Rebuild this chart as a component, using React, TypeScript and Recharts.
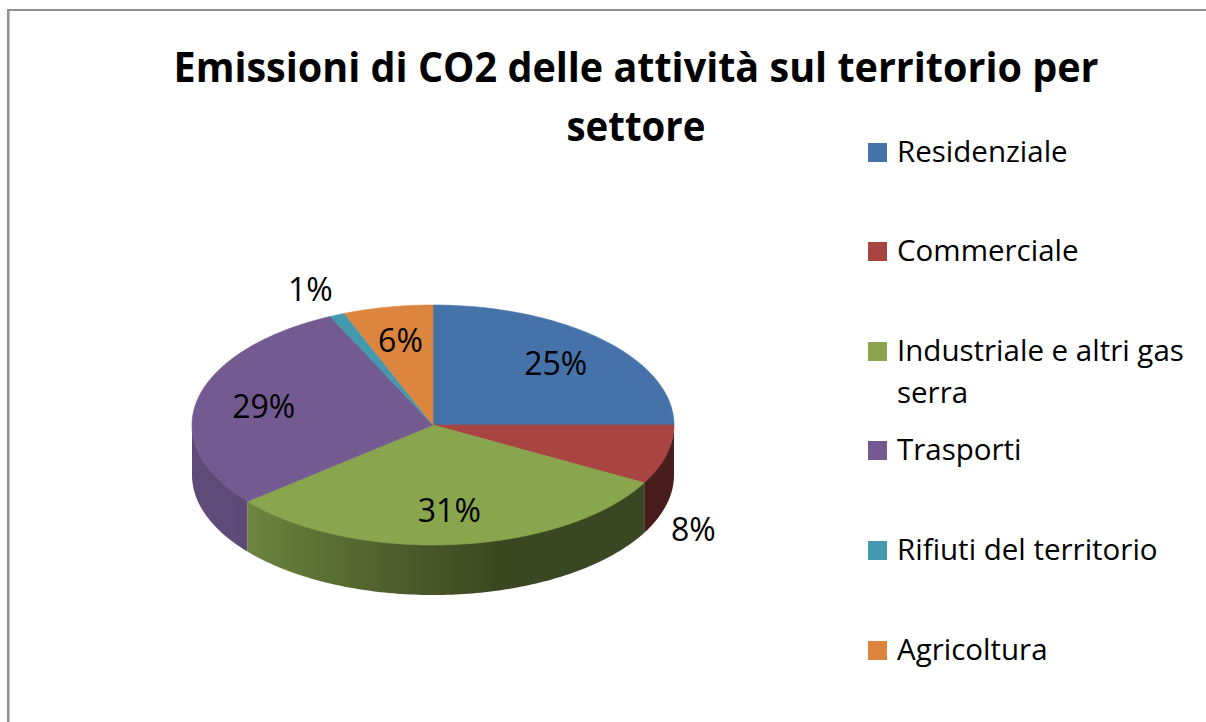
import { PieChart, Pie, Cell, Legend } from "recharts";

const sectors = [
  "Residenziale",
  "Commerciale",
  "Industriale e altri gas serra",
  "Trasporti",
  "Rifiuti del territorio",
  "Agricoltura",
];
const shares = [25, 8, 31, 29, 1, 6];
const titleLines = ["Emissioni di CO2 delle attività sul territorio per", "settore"];

const colors = ["#4672AA", "#A84442", "#89A54E", "#735A90", "#4399AE", "#DC853E"];
// slices whose percentage sits outside the pie
const outsideLabels = ["Commerciale", "Rifiuti del territorio"];

const data = sectors.map((name, i) => ({ name, value: shares[i] }));

const CX = 433;
const CY = 425;
const R = 241;
const TILT = 120 / 241;
const DEPTH = 50;
const RAD = Math.PI / 180;
const FONT = "'Open Sans', 'Noto Sans', sans-serif";

function pt(cx: number, cy: number, r: number, deg: number, drop = 0) {
  return [cx + r * Math.cos(deg * RAD), cy - r * TILT * Math.sin(deg * RAD) + drop];
}

// side wall brightness, light from the left
function shadeAt(deg: number) {
  if (deg <= -145) return 0.83;
  if (deg >= -74) return 0.43;
  const t = (deg + 145) / 71;
  return 0.83 - t * 0.4;
}

function scale(hex: string, k: number) {
  const n = parseInt(hex.slice(1), 16);
  const r = Math.round(((n >> 16) & 255) * k);
  const g = Math.round(((n >> 8) & 255) * k);
  const b = Math.round((n & 255) * k);
  return `rgb(${r},${g},${b})`;
}

function Slice3D(props: any) {
  const { cx, cy, outerRadius, startAngle, endAngle, fill } = props;
  const s = Math.max(startAngle, endAngle);
  const e = Math.min(startAngle, endAngle);
  const id = `wall-${Math.round(s * 10)}`;

  // top face
  const steps = Math.max(2, Math.ceil(s - e));
  let top = `M${cx},${cy}`;
  for (let i = 0; i <= steps; i++) {
    const [x, y] = pt(cx, cy, outerRadius, s - ((s - e) * i) / steps);
    top += ` L${x},${y}`;
  }
  top += " Z";

  // front wall
  const hi = Math.min(s, 0);
  const lo = Math.max(e, -180);
  let wall = null;
  if (lo < hi) {
    const n = Math.max(2, Math.ceil(hi - lo));
    let d = "";
    for (let i = 0; i <= n; i++) {
      const [x, y] = pt(cx, cy, outerRadius, hi - ((hi - lo) * i) / n, -1);
      d += `${i === 0 ? "M" : " L"}${x},${y}`;
    }
    for (let i = n; i >= 0; i--) {
      const [x, y] = pt(cx, cy, outerRadius, hi - ((hi - lo) * i) / n, DEPTH);
      d += ` L${x},${y}`;
    }
    d += " Z";
    const stops = [];
    for (let k = 0; k <= 24; k++) {
      const t = k / 24;
      const deg = -Math.acos(2 * t - 1) / RAD;
      stops.push(<stop key={k} offset={t} stopColor={scale(fill, shadeAt(deg))} />);
    }
    wall = (
      <>
        <defs>
          <linearGradient
            id={id}
            gradientUnits="userSpaceOnUse"
            x1={cx - outerRadius}
            x2={cx + outerRadius}
            y1={0}
            y2={0}
          >
            {stops}
          </linearGradient>
        </defs>
        <path d={d} fill={`url(#${id})`} stroke="none" />
      </>
    );
  }

  return (
    <g>
      {wall}
      <path d={top} fill={fill} stroke={fill} strokeWidth={0.6} />
    </g>
  );
}

const LABEL_SIZE = 32;

function renderLabel(p: any) {
  const { cx, cy, midAngle, outerRadius, percent } = p;
  const name = p.name ?? p.payload?.name;
  let x: number;
  let y: number;
  if (outsideLabels.includes(name)) {
    const sn = Math.sin(midAngle * RAD);
    const cs = Math.cos(midAngle * RAD);
    const [rx, ry] = pt(cx, cy, outerRadius, midAngle, sn < 0 ? DEPTH : 0);
    x = rx + Math.sign(cs) * 27;
    y = ry - Math.sign(sn) * 25;
  } else {
    [x, y] = pt(cx, cy, outerRadius * 0.72, midAngle);
  }
  return (
    <text
      x={x}
      y={y + LABEL_SIZE * 0.357}
      textAnchor="middle"
      fontFamily={FONT}
      fontSize={LABEL_SIZE}
      fill="#000"
    >
      {Math.round(percent * 100)}%
    </text>
  );
}

function LegendBox() {
  return (
    <div style={{ fontFamily: FONT, fontSize: 29.5, color: "#000" }}>
      {sectors.map((name, i) => (
        <div key={name} style={{ display: "flex", alignItems: "flex-start", height: 99.6 }}>
          <div
            style={{
              width: 19,
              height: 19,
              marginTop: 13,
              marginRight: 10,
              background: colors[i],
              flex: "none",
            }}
          />
          <div style={{ width: 300, lineHeight: "42px" }}>{name}</div>
        </div>
      ))}
    </div>
  );
}

export default function App() {
  return (
    <div
      style={{
        position: "absolute",
        left: 0,
        top: 0,
        width: 1206,
        height: 722,
        background: "#fff",
        overflow: "hidden",
      }}
    >
      <PieChart width={1206} height={722} margin={{ top: 0, right: 0, bottom: 0, left: 0 }}>
        <Pie
          data={data}
          dataKey="value"
          nameKey="name"
          cx={CX}
          cy={CY}
          outerRadius={R}
          startAngle={90}
          endAngle={-270}
          stroke="none"
          isAnimationActive={false}
          shape={Slice3D}
          inactiveShape={Slice3D}
          activeShape={Slice3D}
          label={renderLabel}
          labelLine={false}
        >
          {data.map((d, i) => (
            <Cell key={d.name} fill={colors[i]} />
          ))}
        </Pie>
        <Legend
          layout="vertical"
          verticalAlign="top"
          align="right"
          wrapperStyle={{ position: "absolute", left: 868, top: 129.6, width: 330 }}
          content={() => <LegendBox />}
        />
      </PieChart>
      <svg
        width={1206}
        height={722}
        style={{ position: "absolute", left: 0, top: 0, pointerEvents: "none" }}
      >
        <rect x={7} y={9} width={1199} height={2} fill="#8e8e96" />
        <rect x={7} y={9} width={2.5} height={713} fill="#8e8e96" />
        <text
          x={636}
          y={82}
          textAnchor="middle"
          fontFamily={FONT}
          fontWeight={700}
          fontSize={41}
          textLength={925}
          lengthAdjust="spacingAndGlyphs"
        >
          {titleLines[0]}
        </text>
        <text
          x={636}
          y={141}
          textAnchor="middle"
          fontFamily={FONT}
          fontWeight={700}
          fontSize={41}
          textLength={139}
          lengthAdjust="spacingAndGlyphs"
        >
          {titleLines[1]}
        </text>
      </svg>
    </div>
  );
}
